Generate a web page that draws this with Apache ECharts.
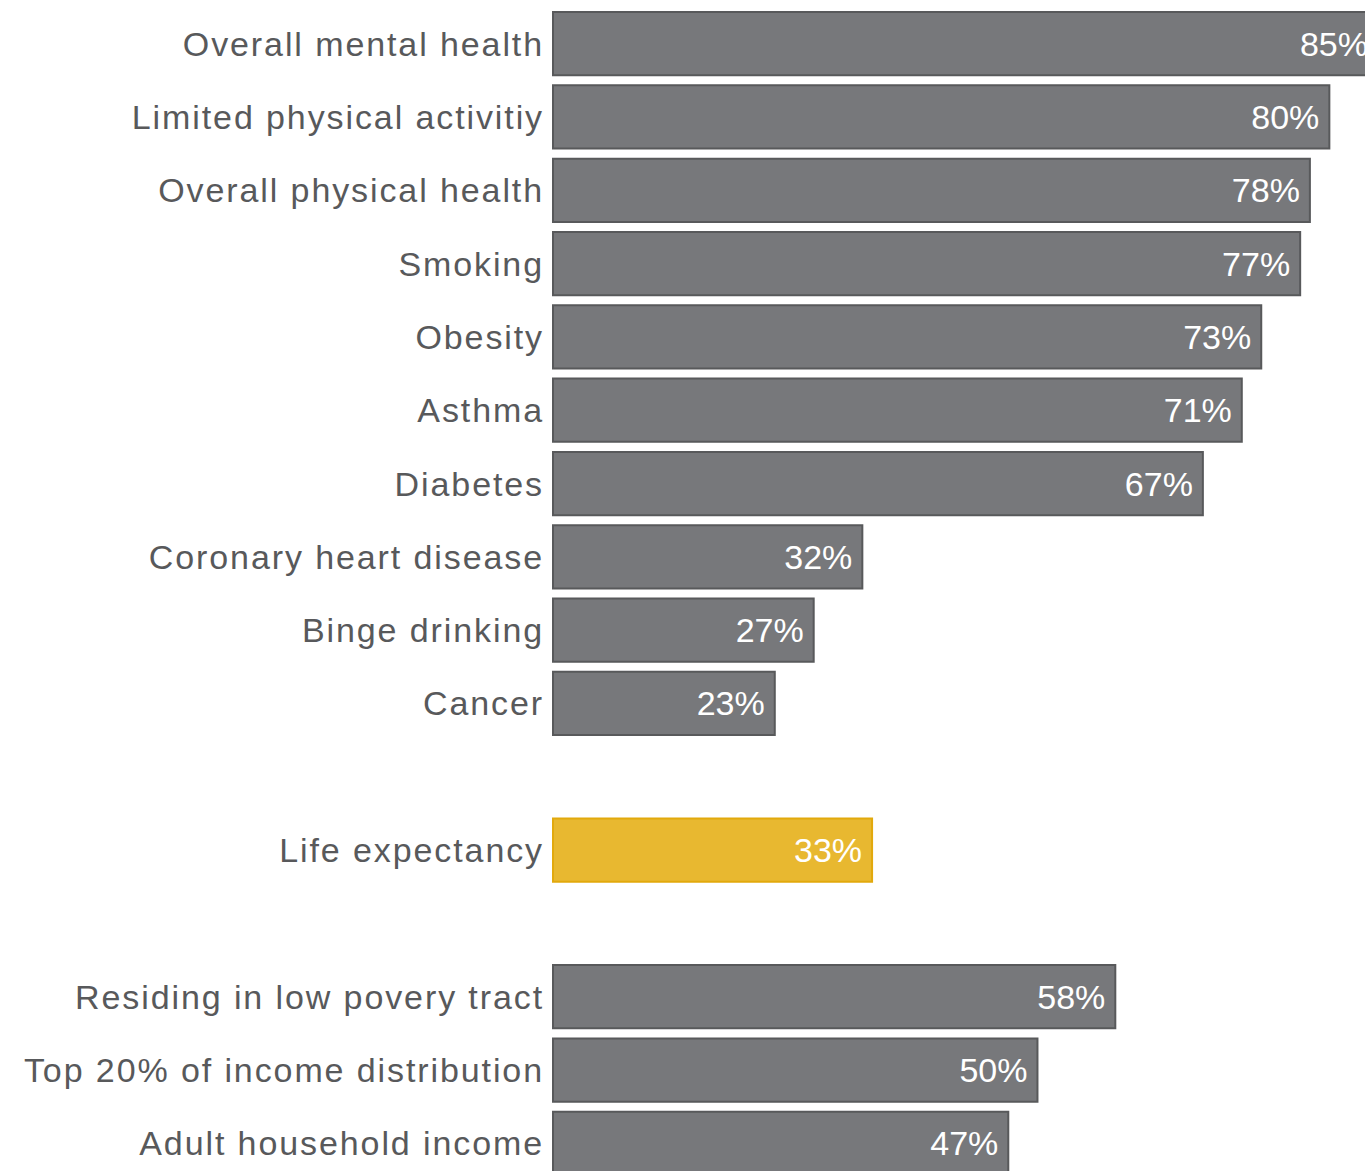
<!DOCTYPE html>
<html>
<head>
<meta charset="utf-8">
<title>Health and income outcomes</title>
<script src="https://cdn.jsdelivr.net/npm/echarts@6/dist/echarts.min.js"></script>
<style>
  html, body { margin: 0; padding: 0; background: #ffffff; }
  #chart { width: 1365px; height: 1171px; }
  /* category names are set a little wider than the bar values */
  #chart text.cat-label { letter-spacing: 1.9px; }
</style>
</head>
<body>
<div id="chart"></div>
<script>
// Rows top to bottom; empty names are spacer rows between the groups.
const categories = [
  'Overall mental health',
  'Limited physical activitiy',
  'Overall physical health',
  'Smoking',
  'Obesity',
  'Asthma',
  'Diabetes',
  'Coronary heart disease',
  'Binge drinking',
  'Cancer',
  '',
  'Life expectancy',
  ' ',
  'Residing in low povery tract',
  'Top 20% of income distribution',
  'Adult household income'
];
const values = [85, 80, 78, 77, 73, 71, 67, 32, 27, 23, null, 33, null, 58, 50, 47];
const highlighted = ['Life expectancy'];

const GREY = '#77787b', GREY_EDGE = '#58595b';
const GOLD = '#e8b830', GOLD_EDGE = '#e2a90c';

const barData = values.map((v, i) => {
  if (v === null) return '-';
  const hot = highlighted.includes(categories[i]);
  return {
    value: v,
    itemStyle: hot ? { color: GOLD, borderColor: GOLD_EDGE } : { color: GREY, borderColor: GREY_EDGE }
  };
});

const chart = echarts.init(document.getElementById('chart'), null, { renderer: 'svg' });
chart.setOption({
  animation: false,
  backgroundColor: '#ffffff',
  grid: { left: 552, top: 7, width: 827, height: 1173, containLabel: false, outerBoundsMode: 'none' },
  xAxis: { type: 'value', min: 0, max: 85, show: false },
  yAxis: {
    type: 'category',
    inverse: true,
    data: categories,
    axisLine: { show: false },
    axisTick: { show: false },
    splitLine: { show: false },
    axisLabel: {
      margin: 8,
      color: GREY_EDGE,
      fontFamily: 'Liberation Sans, Arial, sans-serif',
      fontSize: 34
    }
  },
  series: [{
    type: 'bar',
    data: barData,
    barCategoryGap: '11%',
    itemStyle: { borderWidth: 2 },
    label: {
      show: true,
      position: 'insideRight',
      distance: 11,
      color: '#ffffff',
      fontFamily: 'Liberation Sans, Arial, sans-serif',
      fontSize: 34,
      formatter: p => p.value + '%'
    }
  }]
});

// Tag the axis names so the stylesheet can widen their spacing.
function tagCategoryLabels() {
  document.querySelectorAll('#chart svg text').forEach(t => {
    if (categories.includes(t.textContent) && t.textContent.trim() !== '') {
      t.classList.add('cat-label');
    }
  });
}
chart.on('finished', tagCategoryLabels);
setTimeout(tagCategoryLabels, 0);
</script>
</body>
</html>
